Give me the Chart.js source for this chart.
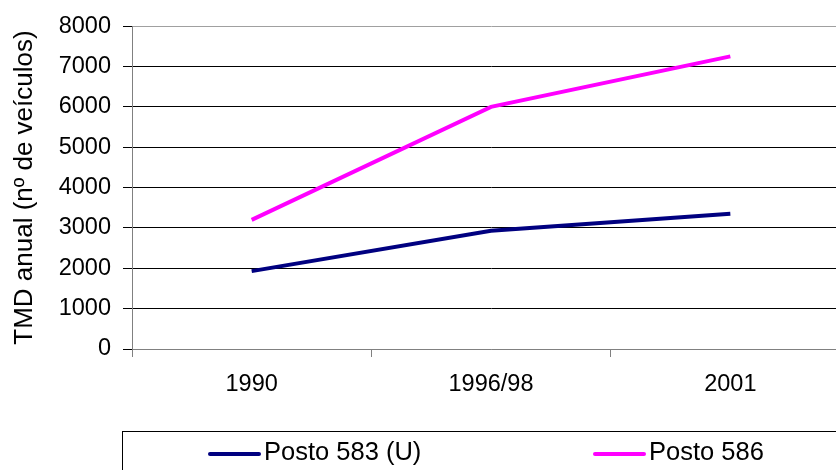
<!DOCTYPE html>
<html>
<head>
<meta charset="utf-8">
<script src="https://cdn.jsdelivr.net/npm/chart.js@4.4.0/dist/chart.umd.min.js"></script>
<style>
  html, body { margin: 0; padding: 0; background: #fff; overflow: hidden; }
  canvas { display: block; }
</style>
</head>
<body>
<canvas id="tmdChart" width="850" height="470"></canvas>
<script>
// data
var categories = ['1990', '1996/98', '2001'];
var posto583 = [1930, 2930, 3350];
var posto586 = [3200, 6000, 7250];
var yTicks = [0, 1000, 2000, 3000, 4000, 5000, 6000, 7000, 8000];

// legend drawn inside a framed box like the original
var boxLegend = {
    id: 'boxLegend',
    afterDraw: function (chart) {
        var ctx = chart.ctx;
        var slots = [209, 594];
        ctx.save();
        ctx.strokeStyle = '#000';
        ctx.lineWidth = 1;
        ctx.strokeRect(122.5, 431.5, 800, 100);
        ctx.font = '25.5px "Liberation Sans", Arial, sans-serif';
        ctx.textBaseline = 'middle';
        ctx.fillStyle = '#000';
        chart.data.datasets.forEach(function (ds, i) {
            var x = slots[i];
            ctx.strokeStyle = ds.borderColor;
            ctx.lineWidth = 4;
            ctx.lineCap = 'round';
            ctx.beginPath();
            ctx.moveTo(x + 1, 454);
            ctx.lineTo(x + 50, 454);
            ctx.stroke();
            ctx.fillText(ds.label, x + 55, 453);
        });
        ctx.restore();
    }
};

var ctx = document.getElementById('tmdChart').getContext('2d');
var tmdChart = new Chart(ctx, {
    type: 'line',
    data: {
        labels: categories,
        datasets: [{
            label: 'Posto 583 (U)',
            data: posto583,
            borderColor: '#000080',
            borderWidth: 4,
            pointRadius: 0,
            tension: 0,
            fill: false
        }, {
            label: 'Posto 586',
            data: posto586,
            borderColor: '#FF00FF',
            borderWidth: 4,
            pointRadius: 0,
            tension: 0,
            fill: false
        }]
    },
    options: {
        responsive: false,
        animation: false,
        layout: { padding: { top: 25, left: 0, right: 0, bottom: 0 } },
        plugins: {
            legend: { display: false },
            tooltip: { enabled: false }
        },
        scales: {
            x: {
                offset: true,
                grid: {
                    offset: true,
                    drawOnChartArea: false,
                    tickLength: 8,
                    color: '#808080'
                },
                border: { color: '#808080', width: 1 },
                ticks: {
                    color: '#000',
                    padding: 13,
                    font: { family: '"Liberation Sans", Arial, sans-serif', size: 23.5 }
                },
                afterFit: function (scale) { scale.height = 121; }
            },
            y: {
                min: 0,
                max: 8000,
                afterBuildTicks: function (scale) {
                    scale.ticks = yTicks.map(function (v) { return { value: v }; });
                },
                grid: {
                    color: function (c) {
                        return (c.tick && (c.tick.value === 8000 || c.tick.value === 0)) ? '#a0a0a0' : '#000';
                    },
                    tickColor: '#000',
                    tickLength: 9,
                    lineWidth: 1
                },
                border: { color: '#808080', width: 1 },
                ticks: {
                    color: '#000',
                    padding: 12,
                    callback: function (v) { return String(v); },
                    font: { family: '"Liberation Sans", Arial, sans-serif', size: 23.5 }
                },
                title: {
                    display: true,
                    text: 'TMD anual (nº de veículos)',
                    color: '#000',
                    padding: { top: 9, bottom: 0 },
                    font: { family: '"Liberation Sans", Arial, sans-serif', size: 26, weight: 'normal' }
                },
                afterFit: function (scale) { scale.width = 132; }
            }
        }
    },
    plugins: [boxLegend]
});
</script>
</body>
</html>
